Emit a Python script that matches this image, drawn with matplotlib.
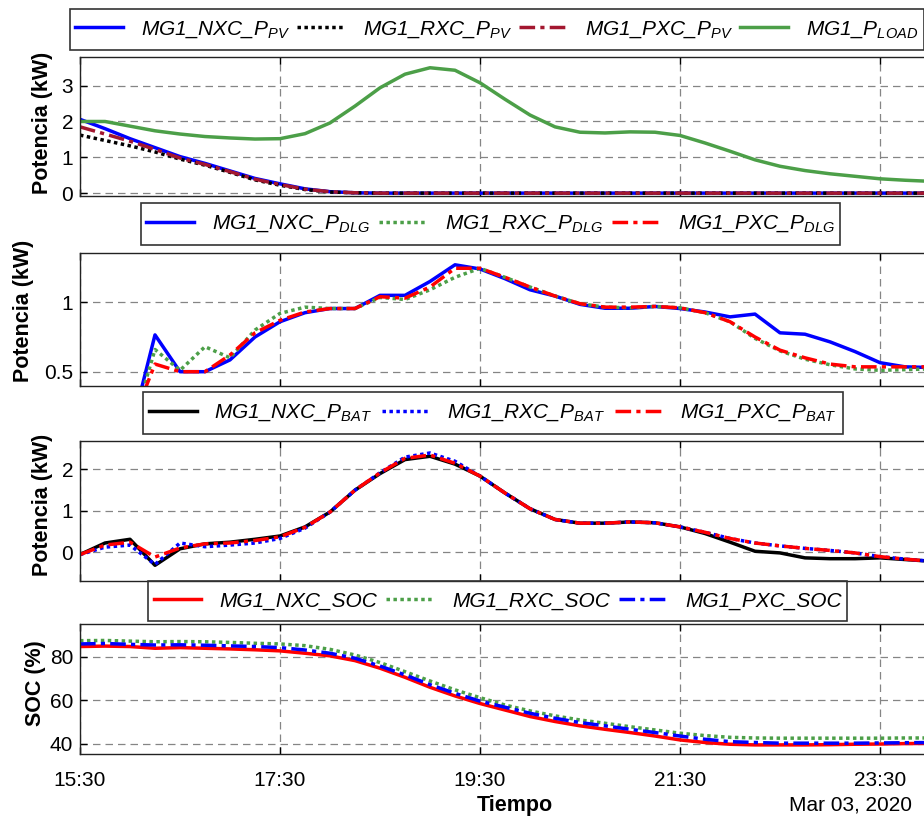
import matplotlib
matplotlib.use("Agg")
import matplotlib.pyplot as plt
from matplotlib.patches import Rectangle
import numpy as np
import pandas as pd

# ---------------- data ----------------
times = pd.date_range("2020-03-03 15:30", periods=36, freq="15min")

pv_nxc = [2.06, 1.80, 1.52, 1.27, 1.02, 0.83, 0.62, 0.41, 0.26, 0.12, 0.04, 0.01] + [0.0] * 24
pv_rxc = [1.62, 1.47, 1.32, 1.15, 0.95, 0.78, 0.58, 0.37, 0.22, 0.10, 0.03, 0.01] + [0.0] * 24
pv_pxc = [1.85, 1.65, 1.45, 1.22, 0.98, 0.80, 0.60, 0.39, 0.24, 0.11, 0.04, 0.01] + [0.0] * 24
p_load = [2.00, 2.00, 1.87, 1.74, 1.65, 1.58, 1.54, 1.51, 1.52, 1.66, 1.96, 2.43,
          2.94, 3.32, 3.50, 3.43, 3.08, 2.62, 2.18, 1.85, 1.70, 1.68, 1.71, 1.70,
          1.61, 1.40, 1.17, 0.93, 0.75, 0.63, 0.54, 0.47, 0.40, 0.36, 0.33, 0.31]

dlg_nxc = [0.0, 0.0, 0.05, 0.765, 0.50, 0.50, 0.585, 0.75, 0.86, 0.925, 0.955, 0.955,
           1.05, 1.05, 1.15, 1.27, 1.24, 1.17, 1.09, 1.045, 0.985, 0.957, 0.957, 0.97,
           0.955, 0.93, 0.895, 0.915, 0.78, 0.77, 0.715, 0.645, 0.565, 0.535, 0.53, 0.53]
dlg_rxc = [0.0, 0.0, 0.05, 0.66, 0.51, 0.68, 0.60, 0.80, 0.92, 0.965, 0.955, 0.955,
           1.035, 1.02, 1.09, 1.18, 1.245, 1.18, 1.11, 1.045, 0.99, 0.965, 0.96, 0.97,
           0.96, 0.925, 0.86, 0.74, 0.65, 0.59, 0.55, 0.52, 0.51, 0.515, 0.52, 0.52]
dlg_pxc = [0.0, 0.0, 0.10, 0.555, 0.50, 0.50, 0.62, 0.78, 0.87, 0.93, 0.955, 0.955,
           1.04, 1.03, 1.11, 1.245, 1.245, 1.18, 1.11, 1.045, 0.99, 0.965, 0.965, 0.97,
           0.96, 0.925, 0.86, 0.75, 0.655, 0.60, 0.555, 0.535, 0.535, 0.535, 0.535, 0.535]

bat_nxc = [-0.06, 0.22, 0.31, -0.32, 0.08, 0.20, 0.24, 0.31, 0.39, 0.61, 0.97, 1.50,
           1.90, 2.24, 2.32, 2.13, 1.84, 1.43, 1.05, 0.79, 0.70, 0.70, 0.73, 0.71,
           0.61, 0.45, 0.24, 0.02, -0.02, -0.14, -0.16, -0.16, -0.14, -0.18, -0.22, -0.26]
bat_rxc = [-0.06, 0.12, 0.17, -0.30, 0.22, 0.13, 0.17, 0.22, 0.33, 0.58, 0.97, 1.50,
           1.92, 2.30, 2.40, 2.20, 1.84, 1.43, 1.05, 0.79, 0.70, 0.70, 0.73, 0.71,
           0.61, 0.48, 0.33, 0.22, 0.15, 0.09, 0.04, -0.02, -0.11, -0.17, -0.22, -0.26]
bat_pxc = [-0.06, 0.17, 0.24, -0.12, 0.10, 0.20, 0.22, 0.28, 0.37, 0.60, 0.97, 1.50,
           1.92, 2.27, 2.35, 2.15, 1.84, 1.43, 1.05, 0.79, 0.70, 0.70, 0.73, 0.71,
           0.61, 0.48, 0.33, 0.22, 0.15, 0.09, 0.04, -0.02, -0.11, -0.17, -0.22, -0.26]

soc_nxc = [84.8, 85.0, 84.8, 84.0, 84.3, 84.0, 83.7, 83.3, 82.8, 81.7, 80.5, 78.3,
           74.8, 70.6, 66.0, 62.0, 58.5, 55.5, 52.5, 50.2, 48.2, 46.6, 45.1, 43.5,
           41.7, 40.5, 39.7, 39.4, 39.4, 39.4, 39.5, 39.7, 39.8, 40.0, 40.1, 40.2]
soc_rxc = [87.5, 87.6, 87.3, 87.0, 87.1, 87.0, 86.7, 86.3, 86.0, 85.2, 83.5, 80.9,
           77.4, 73.2, 68.9, 64.8, 61.2, 57.8, 55.1, 52.8, 50.9, 49.4, 47.8, 46.3,
           44.8, 43.7, 42.9, 42.6, 42.5, 42.5, 42.5, 42.5, 42.5, 42.6, 42.6, 42.6]
soc_pxc = [86.0, 86.2, 85.8, 85.5, 85.6, 85.4, 85.1, 84.8, 84.3, 83.2, 81.7, 79.4,
           75.8, 71.7, 67.2, 63.2, 59.6, 56.8, 54.0, 51.7, 49.7, 48.2, 46.6, 45.1,
           43.5, 42.0, 40.9, 40.5, 40.2, 40.2, 40.2, 40.2, 40.3, 40.4, 40.5, 40.5]

xtick_labels = ["15:30", "17:30", "19:30", "21:30", "23:30"]

# ---------------- style ----------------
plt.rcParams['font.family'] = ['Liberation Sans', 'DejaVu Sans']
plt.rcParams['mathtext.fontset'] = 'custom'
plt.rcParams['mathtext.rm'] = 'Liberation Sans'
plt.rcParams['mathtext.it'] = 'Liberation Sans:italic'
plt.rcParams['mathtext.bf'] = 'Liberation Sans:bold'

W, H = 924, 819
fig = plt.figure(figsize=(W / 100, H / 100), dpi=100)

GREEN = '#4c9f48'
DARKRED = '#a3172f'

def px_axes(left, top, right, bottom):
    return fig.add_axes([left / W, 1 - bottom / H, (right - left) / W, (bottom - top) / H])

x0 = pd.Timestamp("2020-03-03 15:30")
x1 = pd.Timestamp("2020-03-04 00:15")
xticks = pd.date_range("2020-03-03 15:30", periods=5, freq="2h")
AX_W = 875.0

def style_axes(ax, yticks, ylabels, ylim, ylabel, lab_right, lab_yc, top, bottom, show_x=False):
    ax.set_xlim(x0, x1)
    ax.set_ylim(*ylim)
    ax.set_xticks(xticks)
    if show_x:
        ax.set_xticklabels(xtick_labels)
    else:
        ax.set_xticklabels([])
    ax.set_yticks(yticks)
    ax.set_yticklabels(ylabels)
    ax.tick_params(direction='in', top=True, right=True, length=5, width=1,
                   labelsize=15, pad=5, colors='black')
    ax.tick_params(axis='x', pad=12)
    ax.grid(True, linestyle=(0, (6, 4)), color='#858585', linewidth=0.9)
    for s in ax.spines.values():
        s.set_linewidth(1.0)
        s.set_color('#222222')
    ax.set_ylabel(ylabel, fontsize=15.5, fontweight='bold')
    ax.yaxis.set_label_coords((lab_right - 80) / AX_W, 1 - (lab_yc - top) / (bottom - top))

LW = 2.5
DASHDOT = (0, (4.5, 1.5, 1.2, 1.5))
DOT = (0, (1, 1))
leg_kw = dict(frameon=False, borderaxespad=0,
              handlelength=2.3, handletextpad=0.85,
              prop={'family': 'Liberation Sans', 'style': 'italic', 'size': 15},
              borderpad=0.5)
legends = []

# ----- axes 1: PV / load -----
ax1 = px_axes(80, 57, 955, 196)
ax1.plot(times, pv_nxc, color='blue', lw=LW, label='MG1_NXC_P$_{PV}$')
ax1.plot(times, pv_rxc, color='black', lw=LW, ls=DOT, label='MG1_RXC_P$_{PV}$')
ax1.plot(times, pv_pxc, color=DARKRED, lw=LW, ls=DASHDOT, label='MG1_PXC_P$_{PV}$')
ax1.plot(times, p_load, color=GREEN, lw=LW, label='MG1_P$_{LOAD}$')
style_axes(ax1, [0, 1, 2, 3], ['0', '1', '2', '3'], (-0.08, 3.8), 'Potencia (kW)',
           53, 123, 57, 196)
legends.append(ax1.legend(loc='center left', bbox_to_anchor=(64.6 / W, 1 - 29.5 / H),
                          bbox_transform=fig.transFigure, ncol=4, columnspacing=0.35,
                          **leg_kw))

# ----- axes 2: DLG -----
ax2 = px_axes(80, 253, 955, 386)
ax2.plot(times, dlg_nxc, color='blue', lw=LW, label='MG1_NXC_P$_{DLG}$')
ax2.plot(times, dlg_rxc, color=GREEN, lw=LW, ls=DOT, label='MG1_RXC_P$_{DLG}$')
ax2.plot(times, dlg_pxc, color='red', lw=LW, ls=DASHDOT, label='MG1_PXC_P$_{DLG}$')
style_axes(ax2, [0.5, 1.0], ['0.5', '1'], (0.397, 1.355), 'Potencia (kW)',
           34, 311, 253, 386)
legends.append(ax2.legend(loc='center', bbox_to_anchor=(490.5 / W, 1 - 224 / H),
                          bbox_transform=fig.transFigure, ncol=3, columnspacing=0.45,
                          **leg_kw))

# ----- axes 3: BAT -----
ax3 = px_axes(80, 441, 955, 581)
ax3.plot(times, bat_nxc, color='black', lw=LW, label='MG1_NXC_P$_{BAT}$')
ax3.plot(times, bat_rxc, color='blue', lw=LW, ls=DOT, label='MG1_RXC_P$_{BAT}$')
ax3.plot(times, bat_pxc, color='red', lw=LW, ls=DASHDOT, label='MG1_PXC_P$_{BAT}$')
style_axes(ax3, [0, 1, 2], ['0', '1', '2'], (-0.70, 2.69), 'Potencia (kW)',
           53, 505, 441, 581)
legends.append(ax3.legend(loc='center', bbox_to_anchor=(493 / W, 1 - 413 / H),
                          bbox_transform=fig.transFigure, ncol=3, columnspacing=0.45,
                          **leg_kw))

# ----- axes 4: SOC -----
ax4 = px_axes(80, 624, 955, 754)
ax4.plot(times, soc_nxc, color='red', lw=LW, label='MG1_NXC_SOC')
ax4.plot(times, soc_rxc, color=GREEN, lw=LW, ls=DOT, label='MG1_RXC_SOC')
ax4.plot(times, soc_pxc, color='blue', lw=LW, ls=DASHDOT, label='MG1_PXC_SOC')
style_axes(ax4, [40, 60, 80], ['40', '60', '80'], (35.2, 95.2), 'SOC (%)',
           46, 683, 624, 754, show_x=True)
legends.append(ax4.legend(loc='center', bbox_to_anchor=(497.5 / W, 1 - 601 / H),
                          bbox_transform=fig.transFigure, ncol=3, columnspacing=0.45,
                          **leg_kw))

fig.text(515 / W, 1 - 806 / H, 'Tiempo', ha='center', va='center',
         fontsize=15.5, fontweight='bold')
fig.text(912 / W, 1 - 805 / H, 'Mar 03, 2020', ha='right', va='center', fontsize=15)

# legend frames: tighter horizontal padding than matplotlib's uniform borderpad
fig.canvas.draw()
renderer = fig.canvas.get_renderer()
for leg in legends:
    bb = leg.get_window_extent(renderer)
    inset = 5
    fig.add_artist(Rectangle(((bb.x0 + inset) / W, bb.y0 / H),
                             (bb.width - 2 * inset) / W, bb.height / H,
                             transform=fig.transFigure, fill=False,
                             edgecolor='#333333', linewidth=1.2, zorder=10))

fig.savefig('out.png', dpi=100)
